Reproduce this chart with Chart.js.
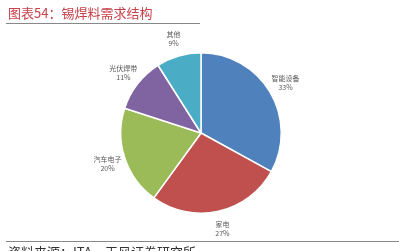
<!DOCTYPE html>
<html>
<head>
<meta charset="utf-8">
<script src="https://cdn.jsdelivr.net/npm/chart.js@4"></script>
<style>
  html, body { margin: 0; padding: 0; background: #fff; }
  #wrap { position: relative; width: 399px; height: 251px; overflow: hidden; }
  #title { position: absolute; left: 8px; top: 3px; font: 13px "Noto Sans CJK SC", sans-serif; color: #c8414a; white-space: nowrap; }
  #topline { position: absolute; left: 6px; top: 23px; width: 194px; height: 1px; background: #888; }
  #botline { position: absolute; left: 6px; top: 241px; width: 393px; height: 1px; background: #888; }
  #source { position: absolute; left: 8px; top: 242px; font: 13px "Noto Sans CJK SC", sans-serif; color: #333; white-space: nowrap; }
  canvas { position: absolute; left: 0; top: 0; }
</style>
</head>
<body>
<div id="wrap">
  <canvas id="pie" width="399" height="251"></canvas>
  <div id="title">图表54：锡焊料需求结构</div>
  <div id="topline"></div>
  <div id="botline"></div>
  <div id="source">资料来源：ITA，天风证券研究所</div>
</div>
<script>
const categories = ["智能设备", "家电", "汽车电子", "光伏焊带", "其他"];
const shares = [33, 27, 20, 11, 9];
const sliceColors = ['#4f81bd', '#c0504d', '#9bbb59', '#8064a2', '#4bacc6'];

// labels outside each slice: name on top, percent below
const outsideLabels = {
    id: 'outsideLabels',
    afterDatasetsDraw(chart) {
        const ctx = chart.ctx;
        const meta = chart.getDatasetMeta(0);
        ctx.save();
        ctx.fillStyle = '#595959';
        ctx.textAlign = 'center';
        ctx.textBaseline = 'middle';
        ctx.font = '7px "Noto Sans CJK SC", sans-serif';
        meta.data.forEach(function(arc, i) {
            const mid = (arc.startAngle + arc.endAngle) / 2;
            const r = arc.outerRadius + 18;
            const x = arc.x + Math.cos(mid) * r;
            const y = arc.y + Math.sin(mid) * r;
            ctx.fillText(categories[i], x, y - 4.5);
            ctx.fillText(shares[i] + '%', x, y + 4.5);
        });
        ctx.restore();
    }
};

new Chart(document.getElementById('pie'), {
    type: 'pie',
    data: {
        labels: categories,
        datasets: [{
            data: shares,
            backgroundColor: sliceColors,
            borderColor: '#ffffff',
            borderWidth: 1.5
        }]
    },
    options: {
        responsive: false,
        animation: false,
        layout: { padding: { left: 120, right: 117, top: 52, bottom: 37 } },
        plugins: {
            legend: { display: false },
            tooltip: { enabled: false },
            title: { display: false }
        }
    },
    plugins: [outsideLabels]
});
</script>
</body>
</html>
